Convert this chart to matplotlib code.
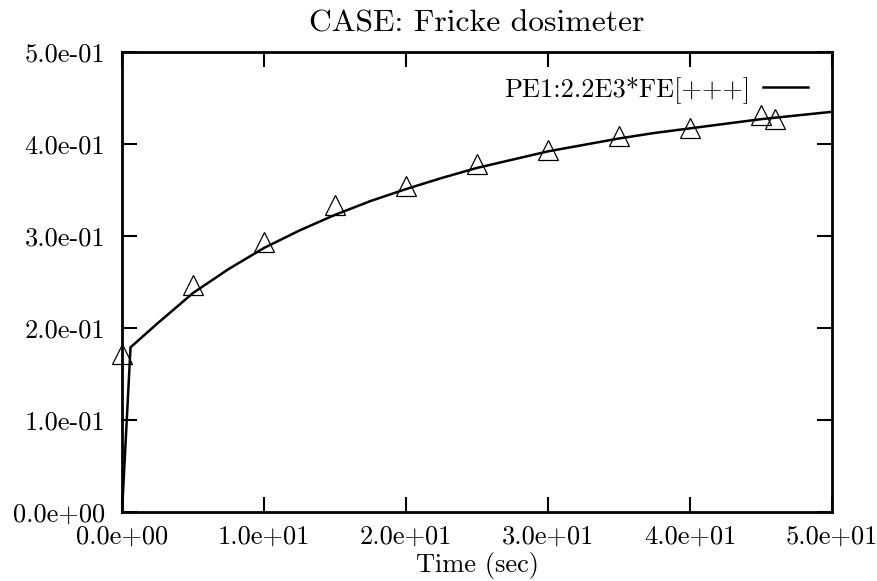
import numpy as np
import matplotlib
matplotlib.use('Agg')
import matplotlib.pyplot as plt

# simulated curve PE1:2.2E3*FE[+++]
sim_t = [0.0, 0.6, 2.5, 5.0, 7.5, 10.0, 12.5, 15.0, 17.5, 20.0, 22.5, 25.0,
         27.5, 30.0, 32.5, 35.0, 37.5, 40.0, 42.5, 45.0, 47.5, 50.0]
sim_y = [0.0, 0.179, 0.205, 0.238, 0.264, 0.287, 0.306, 0.323, 0.338, 0.351,
         0.363, 0.374, 0.383, 0.392, 0.399, 0.406, 0.412, 0.417, 0.422, 0.427,
         0.431, 0.435]

# measured points
exp_t = [0.0, 5.0, 10.0, 15.0, 20.0, 25.0, 30.0, 35.0, 40.0, 45.0, 46.0]
exp_y = [0.172, 0.247, 0.293, 0.334, 0.354, 0.378, 0.393, 0.409, 0.417, 0.432, 0.427]

xticks = [0, 10, 20, 30, 40, 50]
yticks = [0.0, 0.1, 0.2, 0.3, 0.4, 0.5]

plt.rcParams['font.family'] = ['cmr10', 'DejaVu Serif']
plt.rcParams['font.size'] = 19

fig = plt.figure(figsize=(8.77, 5.81), dpi=100)
ax = fig.add_axes([122 / 877, 1 - 512 / 581, 710 / 877, 460 / 581])

ax.plot(sim_t, sim_y, color='black', linewidth=1.8, label='PE1:2.2E3*FE[+++]')
ax.plot(exp_t, exp_y, linestyle='none', marker='^', markersize=15,
        markerfacecolor='none', markeredgecolor='black', markeredgewidth=0.9,
        clip_on=False)

ax.set_xlim(0, 50)
ax.set_ylim(0, 0.5)
ax.set_xticks(xticks)
ax.set_yticks(yticks)
ax.set_xticklabels(['%.1e' % v for v in xticks])
ax.set_yticklabels(['%.1e' % v for v in yticks])
ax.tick_params(direction='in', length=11, width=1.5, top=True, right=True)
ax.tick_params(axis='y', pad=12)
ax.tick_params(axis='x', pad=9.5)
for s in ax.spines.values():
    s.set_linewidth(2)

ax.set_title('CASE: Fricke dosimeter', pad=15)
ax.set_xlabel('Time (sec)', labelpad=2)

leg = ax.legend(loc='upper right', frameon=False, markerfirst=False,
                handlelength=1.7, handletextpad=0.5, borderaxespad=0.5)

fig.savefig('out.png', dpi=100)
